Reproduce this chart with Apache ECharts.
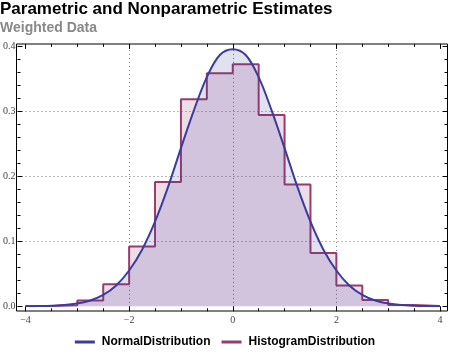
<!DOCTYPE html>
<html>
<head>
<meta charset="utf-8">
<script src="https://cdn.jsdelivr.net/npm/echarts@6/dist/echarts.min.js"></script>
<style>html,body{margin:0;padding:0;background:#fff}#c{width:450px;height:356px}</style>
</head>
<body>
<div id="c"></div>
<script>
// Histogram bins (left edges, width 0.5) and heights
const binStarts = [-4, -3.5, -3, -2.5, -2, -1.5, -1, -0.5, 0, 0.5, 1, 1.5, 2, 2.5, 3, 3.5];
const binEnd = 4;
const histValues = [0.0005, 0.0015, 0.009, 0.034, 0.092, 0.191, 0.318, 0.358, 0.372, 0.294, 0.187, 0.082, 0.032, 0.0095, 0.002, 0.0005];
// Normal density curve
const curveX = [-4, -3.75, -3.5, -3.25, -3, -2.75, -2.5, -2.25, -2, -1.75, -1.5, -1.25, -1, -0.75, -0.5, -0.25, 0, 0.25, 0.5, 0.75, 1, 1.25, 1.5, 1.75, 2, 2.25, 2.5, 2.75, 3, 3.25, 3.5, 3.75, 4];
const curveY = [0.0001, 0.0004, 0.0009, 0.002, 0.0045, 0.009, 0.0175, 0.032, 0.055, 0.087, 0.13, 0.183, 0.243, 0.301, 0.352, 0.386, 0.395, 0.386, 0.352, 0.301, 0.243, 0.183, 0.13, 0.087, 0.055, 0.032, 0.0175, 0.009, 0.0045, 0.002, 0.0009, 0.0004, 0.0001];
const xTicks = [-4, -2, 0, 2, 4];
const yTicks = [0, 0.1, 0.2, 0.3, 0.4];

const histData = binStarts.map((x, i) => [x, histValues[i]]);
histData.push([binEnd, histValues[histValues.length - 1]]);
const curveData = curveX.map((x, i) => [x, curveY[i]]);

const serif = 'Liberation Serif';
const sans = 'Liberation Sans';
const chart = echarts.init(document.getElementById('c'), null, {renderer: 'canvas'});
const tickLbl = {fontFamily: serif, fontSize: 10, color: '#444'};
chart.setOption({
  animation: false,
  title: {
    text: 'Parametric and Nonparametric Estimates',
    subtext: 'Weighted Data',
    left: -5, top: -4, itemGap: 3,
    textStyle: {fontFamily: sans, fontSize: 17, fontWeight: 'bold', color: '#000'},
    subtextStyle: {fontFamily: sans, fontSize: 14, fontWeight: 'bold', color: '#888'}
  },
  legend: {
    data: ['NormalDistribution', 'HistogramDistribution'],
    bottom: 3, left: 'center',
    icon: 'rect', itemWidth: 20, itemHeight: 3, itemGap: 11,
    textStyle: {fontFamily: sans, fontSize: 12, fontWeight: 'bold', color: '#000', padding: [0, 0, 0, 2]}
  },
  grid: [
    {left: 16.5, right: 2.5, top: 44, bottom: 45, show: true, borderColor: '#000', borderWidth: 1, backgroundColor: 'transparent'},
    {left: 24.5, right: 10, top: 45.9, bottom: 49.7}
  ],
  xAxis: [
    {gridIndex: 0, type: 'value', min: 0, max: 1, show: false},
    {gridIndex: 1, type: 'value', min: -4, max: 4, interval: 2, position: 'bottom', offset: 5,
     axisLine: {show: false, onZero: false},
     axisTick: {show: true, inside: true, length: 5, lineStyle: {color: '#000'}},
     minorTick: {show: true, splitNumber: 4, length: 3, lineStyle: {color: '#000'}},
     axisLabel: Object.assign({margin: 4, formatter: v => String(v).replace('-', '\u2212')}, tickLbl),
     splitLine: {show: true, showMinLine: false, showMaxLine: false, lineStyle: {color: '#777', type: [1, 3], width: 1}}},
    {gridIndex: 1, type: 'value', min: -4, max: 4, interval: 2, position: 'top', offset: 2,
     axisLine: {show: false, onZero: false},
     axisTick: {show: true, inside: true, length: 5, lineStyle: {color: '#000'}},
     minorTick: {show: true, splitNumber: 4, length: 3, lineStyle: {color: '#000'}},
     axisLabel: {show: false}, splitLine: {show: false}}
  ],
  yAxis: [
    {gridIndex: 0, type: 'value', min: 0, max: 1, show: false},
    {gridIndex: 1, type: 'value', min: 0, max: 0.4, interval: 0.1, position: 'left', offset: 8,
     axisLine: {show: false, onZero: false},
     axisTick: {show: true, inside: true, length: 5, lineStyle: {color: '#000'}},
     minorTick: {show: true, splitNumber: 5, length: 3, lineStyle: {color: '#000'}},
     axisLabel: Object.assign({margin: 2, formatter: v => v.toFixed(1)}, tickLbl),
     splitLine: {show: true, showMinLine: false, showMaxLine: false, lineStyle: {color: '#777', type: [1, 3], width: 1}}},
    {gridIndex: 1, type: 'value', min: 0, max: 0.4, interval: 0.1, position: 'right', offset: 7.5,
     axisLine: {show: false, onZero: false},
     axisTick: {show: true, inside: true, length: 5, lineStyle: {color: '#000'}},
     minorTick: {show: true, splitNumber: 5, length: 3, lineStyle: {color: '#000'}},
     axisLabel: {show: false}, splitLine: {show: false}}
  ],
  series: [
    {name: 'HistogramDistribution', type: 'line', xAxisIndex: 1, yAxisIndex: 1, step: 'end',
     data: histData, symbol: 'none', color: '#963c6e',
     lineStyle: {color: '#963c6e', width: 2},
     areaStyle: {color: 'rgba(150,55,110,0.24)', origin: 'start'}, z: 2},
    {name: 'NormalDistribution', type: 'line', xAxisIndex: 1, yAxisIndex: 1, smooth: 0.35,
     data: curveData, symbol: 'none', color: '#3c3c9c',
     lineStyle: {color: '#3c3c9c', width: 2},
     areaStyle: {color: 'rgba(60,60,160,0.22)', origin: 'start'}, z: 3}
  ]
});
</script>
</body>
</html>
